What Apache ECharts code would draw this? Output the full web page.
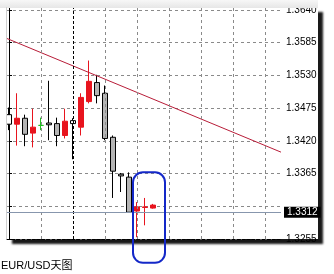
<!DOCTYPE html>
<html><head><meta charset="utf-8">
<script src="https://cdn.jsdelivr.net/npm/echarts@6/dist/echarts.min.js"></script>
<style>html,body{margin:0;padding:0;background:#fff}#c{width:334px;height:274px}</style>
</head><body><div id="c"></div>
<script>
// bar positions (bar index on the time axis)
const barIndex = [0,1,2,3,4,5,6,7,8,9,10,11,12,13,14,15,16,17,18];
const opens  = [1.3448,1.3448,1.3458,1.3433,1.3446,1.3450,1.3449,1.3429,1.3449,1.3443,1.3486,1.3518,1.3500,1.3426,1.3364,1.3359,1.3302,1.3308,1.3307];
const closes = [1.3464,1.3458,1.3431,1.3443,1.3446,1.3447,1.3429,1.3453,1.3454,1.3493,1.3520,1.3496,1.3424,1.3369,1.3361,1.3300,1.3309,1.3309,1.3312];
const lows   = [1.3438,1.3412,1.3411,1.3409,1.3438,1.3421,1.3411,1.3424,1.3389,1.3429,1.3483,1.3483,1.3421,1.3324,1.3334,1.3299,1.3258,1.3278,1.3306];
const highs  = [1.3476,1.3500,1.3464,1.3474,1.3459,1.3521,1.3459,1.3474,1.3458,1.3500,1.3555,1.3531,1.3513,1.3429,1.3366,1.3367,1.3317,1.3324,1.3314];
const hollowBars = [0, 8];
// axis settings
const xRange = [-0.25, 34];
const priceMin = 1.3255, priceMax = 1.3645, priceStep = 0.0055;
const gridColumns = [4, 12, 16, 20, 24, 28, 32];
const periodSeparator = 8;
const bidPrice = 1.3312;
// trendline endpoints [bar, price]
const trendStart = [-0.25, 1.3592];
const trendEnd = [34, 1.3401];
// highlighted bars
const highlightBars = [15.5, 19.5];
const highlightPrices = [1.3367, 1.3215];
const titleText = 'EUR/USD天图';

const chart = echarts.init(document.getElementById('c'), null, {renderer: 'canvas'});
const candles = barIndex.map((x, i) => {
  const item = {value: [x, opens[i], closes[i], lows[i], highs[i]]};
  if (hollowBars.includes(i)) item.itemStyle = {color: '#fff', color0: '#fff', borderColor: '#000', borderColor0: '#000'};
  return item;
});
const vLines = gridColumns.map(v => ({xAxis: v, lineStyle: {color: '#8a8a8a', type: [3, 3], width: 1}}));
vLines.push({xAxis: periodSeparator, lineStyle: {color: '#000', type: [3, 2], width: 1}});
vLines.push({yAxis: bidPrice, lineStyle: {color: '#8796ad', type: 'solid', width: 1},
  label: {show: true, position: 'end', formatter: bidPrice.toFixed(4), backgroundColor: '#000', color: '#fff',
    padding: [1, 3, 0, 3], fontSize: 10, distance: 3, fontFamily: 'Liberation Sans Narrow, Liberation Sans, Arial'}});

chart.setOption({
  animation: false,
  backgroundColor: '#fff',
  title: {text: titleText, left: 1, top: 260, padding: 0,
    textStyle: {fontSize: 11, fontWeight: 'normal', color: '#000', fontFamily: 'Liberation Sans, Noto Sans CJK SC'}},
  grid: {left: 7, top: 7, right: 53, bottom: 35},
  xAxis: {type: 'value', min: xRange[0], max: xRange[1],
    axisLabel: {show: false}, axisTick: {show: false}, splitLine: {show: false},
    axisLine: {show: true, onZero: false, lineStyle: {color: '#000', type: [3, 2]}}},
  yAxis: {type: 'value', position: 'right', min: priceMin, max: priceMax, interval: priceStep, scale: true,
    axisLine: {show: true, lineStyle: {color: '#000'}},
    axisTick: {show: true, length: 3, lineStyle: {color: '#000'}},
    axisLabel: {margin: 5, fontSize: 10, color: '#000', fontFamily: 'Liberation Sans Narrow, Liberation Sans, Arial',
      formatter: v => Math.abs(v - 1.3310) < 1e-6 ? '' : v.toFixed(4)},
    splitLine: {show: true, lineStyle: {color: '#8a8a8a', type: [3, 3]}}},
  series: [
    {type: 'candlestick', barWidth: 5, data: candles,
      itemStyle: {color: '#e8141e', color0: '#b4b4b4', borderColor: '#e8141e', borderColor0: '#000', borderColorDoji: '#22c022', borderWidth: 1},
      markLine: {silent: true, symbol: ['none', 'none'], animation: false, label: {show: false}, data: vLines}},
    {type: 'line', data: [trendStart, trendEnd], symbol: 'none', silent: true,
      lineStyle: {color: '#b81c38', width: 1}}
  ]
});

const p1 = chart.convertToPixel({gridIndex: 0}, [highlightBars[0], highlightPrices[0]]);
const p2 = chart.convertToPixel({gridIndex: 0}, [highlightBars[1], highlightPrices[1]]);
const g = chart.getModel().getComponent('grid').coordinateSystem.getRect();
chart.setOption({
  graphic: [
    {type: 'rect', z: -10, shape: {x: g.x, y: g.y, width: 311, height: g.height},
      style: {fill: '#fff', shadowBlur: 2, shadowOffsetX: 5, shadowOffsetY: 5, shadowColor: 'rgba(0,0,0,0.9)'}},
    {type: 'rect', z: 100, shape: {x: 0, y: 0, width: g.x + 311, height: g.y + 1},
      style: {fill: new echarts.graphic.LinearGradient(0, 0, 0, 1, [{offset: 0, color: '#f7f7f7'}, {offset: 1, color: '#e6e6e6'}])}},
    {type: 'line', z: 100, shape: {x1: g.x - 0.5, y1: g.y, x2: g.x - 0.5, y2: g.y + g.height},
      style: {stroke: '#d0d0d0', lineWidth: 1}},
    {type: 'rect', z: 100, shape: {x: p1[0], y: p1[1], width: p2[0] - p1[0], height: p2[1] - p1[1], r: 10},
      style: {fill: 'none', stroke: '#1428c8', lineWidth: 2}}
  ]
});
</script></body></html>
